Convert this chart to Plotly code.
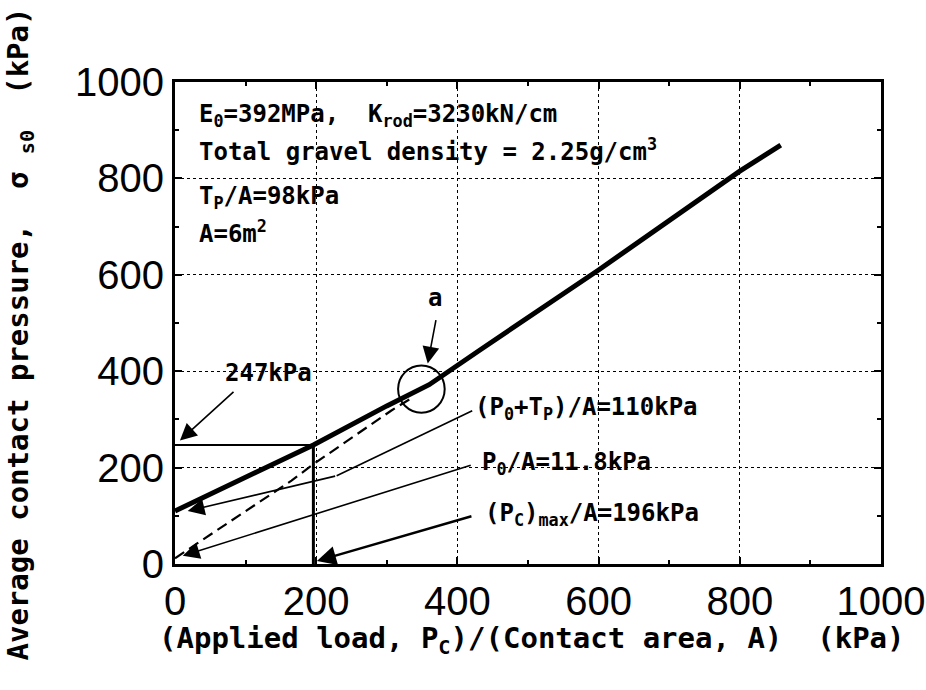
import plotly.graph_objects as go

# ---- data ----
main_x = [0, 100, 196, 300, 360, 432, 600, 800, 858]
main_y = [110, 180, 247, 328, 372, 444, 610, 815, 869]

dash_x = [0, 165, 197, 306, 335]
dash_y = [12, 173, 208, 318, 344]

P0_A = 11.8          # kPa
P0Tp_A = 110         # kPa
Pcmax_A = 196        # kPa
sigma_at_max = 247   # kPa

x_ticks = [0, 200, 400, 600, 800, 1000]
y_ticks = [0, 200, 400, 600, 800, 1000]

TICK_FONT = "Liberation Sans Narrow, Liberation Sans, Arial, sans-serif"
TXT_FONT = "DejaVu Sans Mono, Liberation Mono, monospace"

fig = go.Figure()

# reference lines for (Pc)max/A
fig.add_trace(go.Scatter(x=[0, Pcmax_A], y=[sigma_at_max, sigma_at_max], mode="lines",
                         line=dict(color="black", width=2), showlegend=False, hoverinfo="skip"))
fig.add_trace(go.Scatter(x=[Pcmax_A, Pcmax_A], y=[0, sigma_at_max], mode="lines",
                         line=dict(color="black", width=3), showlegend=False, hoverinfo="skip"))

# dashed curve
fig.add_trace(go.Scatter(x=dash_x, y=dash_y, mode="lines",
                         line=dict(color="black", width=2.2, dash="11px,6px"), showlegend=False))
# main thick curve
fig.add_trace(go.Scatter(x=main_x, y=main_y, mode="lines",
                         line=dict(color="black", width=5), showlegend=False))

# bent leader line for (P0+Tp)/A
fig.add_trace(go.Scatter(x=[421, 229], y=[318, 183], mode="lines",
                         line=dict(color="black", width=1.6), showlegend=False, hoverinfo="skip"))

# circle "a"
fig.add_shape(type="circle", xref="x", yref="y", x0=316, x1=382, y0=314, y1=412,
              line=dict(color="black", width=2))

bold = dict(family=TXT_FONT, size=24, color="black", weight="bold")

def arrow(tip, tail, width=1.6, size=2.1):
    fig.add_annotation(x=tip[0], y=tip[1], ax=tail[0], ay=tail[1], xref="x", yref="y",
                       axref="x", ayref="y", text="", showarrow=True, arrowhead=2,
                       arrowsize=size, arrowwidth=width, arrowcolor="black")

arrow((18, P0Tp_A), (229, 183))
arrow((11, 17), (421, 206))
arrow((201, 6), (422, 100), width=2.4, size=1.6)
arrow((7, 256), (85, 360))
arrow((358, 416), (370, 509))

def label(x, y, text, anchor="left", size=24):
    f = dict(bold); f["size"] = size
    fig.add_annotation(x=x, y=y, xref="x", yref="y", text=text, showarrow=False,
                       xanchor=anchor, yanchor="middle", font=f)

label(31, 931, "E<sub>0</sub>=392MPa,\u00a0\u00a0K<sub>rod</sub>=3230kN/cm")
label(31, 859, "Total gravel density = 2.25g/cm<sup>3</sup>")
label(31, 761, "T<sub>P</sub>/A=98kPa")
label(31, 688, "A=6m<sup>2</sup>")
label(132, 397, f"{sigma_at_max}kPa", anchor="center")
label(368, 551, "a", anchor="center")
label(422, 322, f"(P<sub>0</sub>+T<sub>P</sub>)/A={P0Tp_A}kPa")
label(432, 208, "P<sub>0</sub>/A=11.8kPa")
label(436, 102, f"(P<sub>C</sub>)<sub>max</sub>/A={Pcmax_A}kPa")

# axis titles
title_font = dict(family=TXT_FONT, size=29, color="black", weight="bold")
fig.add_annotation(x=0.505, y=-0.158, xref="paper", yref="paper", showarrow=False,
                   xanchor="center", yanchor="middle", font=title_font,
                   text="(Applied load, P<sub>C</sub>)/(Contact area, A)\u00a0\u00a0(kPa)")
fig.add_annotation(x=-0.219, y=0.477, xref="paper", yref="paper", showarrow=False,
                   xanchor="center", yanchor="middle", textangle=-90, font=title_font,
                   text="Average contact pressure,\u00a0\u00a0σ\u00a0<sub>s0</sub>\u00a0\u00a0(kPa)")

axis_common = dict(
    range=[0, 1000], showline=True, linecolor="black", linewidth=3, mirror="ticks",
    ticks="inside", ticklen=7, tickwidth=2, tickcolor="black",
    showgrid=True, gridcolor="black", gridwidth=1, griddash="dot",
    zeroline=False, tickfont=dict(family=TICK_FONT, size=40, color="black"),
    ticklabeloverflow="allow",
    minor=dict(ticks="inside", ticklen=4, tickwidth=2, tickcolor="black", dtick=100, showgrid=False),
)

fig.update_xaxes(**axis_common, tickvals=x_ticks, ticktext=[str(v) for v in x_ticks])
fig.update_yaxes(**axis_common, tickvals=y_ticks, ticktext=[str(v) for v in y_ticks])

fig.update_layout(width=926, height=690, margin=dict(l=175, r=45, t=82, b=126, autoexpand=False),
                  plot_bgcolor="white", paper_bgcolor="white", showlegend=False)

fig.write_html("out.html")
